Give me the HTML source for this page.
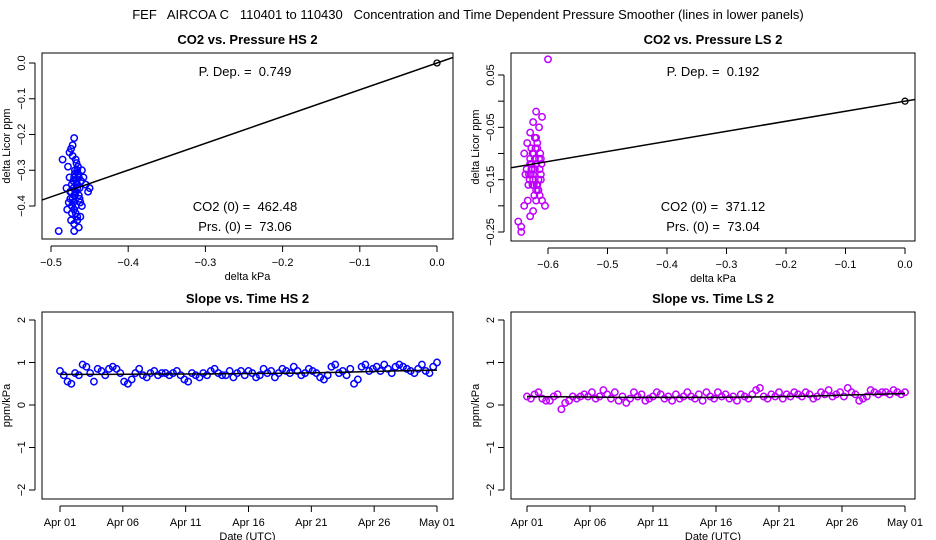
<!DOCTYPE html>
<html><head><meta charset="utf-8">
<style>
body{margin:0;background:#fff;}
svg{display:block;font-family:"Liberation Sans",sans-serif;}
text{white-space:pre;}
</style></head>
<body>
<svg id="c" width="936" height="540" viewBox="0 0 936 540">
<text x="468" y="19" text-anchor="middle" font-size="13" xml:space="preserve">FEF   AIRCOA C   110401 to 110430   Concentration and Time Dependent Pressure Smoother (lines in lower panels)</text>
</svg>
<script>
// ---- data ----
const hsPrsX=[-0.49,-0.485,-0.48,-0.478,-0.476,-0.475,-0.474,-0.473,-0.472,-0.471,-0.47,-0.47,-0.469,-0.468,-0.468,-0.467,-0.466,-0.466,-0.465,-0.464,-0.463,-0.462,-0.461,-0.46,-0.458,-0.455,-0.452,-0.45,-0.479,-0.477,-0.474,-0.472,-0.47,-0.468,-0.466,-0.464,-0.462,-0.47,-0.473,-0.469,-0.467,-0.471,-0.475,-0.465,-0.463,-0.46,-0.476,-0.472,-0.468,-0.466,-0.47,-0.474,-0.469,-0.467,-0.464,-0.471,-0.473,-0.468,-0.466,-0.47];
const hsPrsY=[-0.47,-0.27,-0.35,-0.29,-0.32,-0.38,-0.24,-0.42,-0.26,-0.33,-0.21,-0.45,-0.3,-0.36,-0.4,-0.28,-0.34,-0.43,-0.31,-0.37,-0.35,-0.39,-0.33,-0.3,-0.32,-0.34,-0.36,-0.35,-0.41,-0.39,-0.44,-0.38,-0.37,-0.36,-0.35,-0.46,-0.43,-0.32,-0.34,-0.31,-0.33,-0.35,-0.36,-0.29,-0.38,-0.4,-0.25,-0.23,-0.27,-0.3,-0.41,-0.36,-0.37,-0.34,-0.32,-0.39,-0.4,-0.42,-0.44,-0.47];
const lsPrsX=[-0.6,-0.62,-0.625,-0.615,-0.63,-0.62,-0.61,-0.64,-0.635,-0.618,-0.612,-0.628,-0.622,-0.632,-0.616,-0.626,-0.62,-0.614,-0.61,-0.624,-0.63,-0.638,-0.618,-0.622,-0.628,-0.612,-0.616,-0.62,-0.625,-0.633,-0.64,-0.645,-0.63,-0.625,-0.62,-0.605,-0.65,-0.645,-0.628,-0.618,-0.622,-0.626,-0.614,-0.612,-0.62,-0.63,-0.625,-0.619,-0.623,-0.617,-0.627,-0.621,-0.615,-0.629,-0.631,-0.611,-0.613,-0.624,-0.634,-0.636];
const lsPrsY=[0.08,-0.02,-0.04,-0.05,-0.06,-0.07,-0.03,-0.1,-0.08,-0.09,-0.11,-0.12,-0.13,-0.14,-0.15,-0.16,-0.17,-0.18,-0.19,-0.1,-0.12,-0.14,-0.16,-0.11,-0.13,-0.15,-0.17,-0.12,-0.14,-0.16,-0.2,-0.24,-0.22,-0.21,-0.19,-0.2,-0.23,-0.25,-0.09,-0.08,-0.07,-0.1,-0.13,-0.14,-0.12,-0.11,-0.15,-0.16,-0.18,-0.17,-0.13,-0.09,-0.11,-0.14,-0.15,-0.12,-0.1,-0.16,-0.19,-0.13];
const hsSlope=0.749, lsSlope=0.192;
const hsSlopeT=[0.8,0.7,0.55,0.5,0.75,0.7,0.95,0.9,0.75,0.55,0.85,0.8,0.7,0.85,0.9,0.85,0.75,0.55,0.5,0.6,0.75,0.85,0.7,0.65,0.75,0.8,0.7,0.75,0.75,0.7,0.75,0.8,0.7,0.6,0.55,0.75,0.7,0.65,0.75,0.7,0.8,0.85,0.75,0.7,0.7,0.8,0.65,0.75,0.8,0.7,0.8,0.75,0.65,0.7,0.85,0.75,0.8,0.65,0.75,0.85,0.8,0.75,0.9,0.8,0.7,0.75,0.85,0.8,0.75,0.65,0.6,0.7,0.9,0.95,0.75,0.8,0.7,0.85,0.5,0.6,0.9,0.95,0.8,0.85,0.9,0.8,0.95,0.85,0.75,0.9,0.95,0.9,0.85,0.8,0.75,0.85,0.95,0.8,0.75,0.9,1.0];
const hsFitT=[0.72,0.72,0.73,0.73,0.74,0.75,0.77,0.8,0.82];
const lsSlopeT=[0.2,0.15,0.25,0.3,0.15,0.1,0.1,0.2,0.25,-0.1,0.05,0.1,0.2,0.15,0.2,0.25,0.2,0.3,0.15,0.2,0.35,0.25,0.15,0.3,0.1,0.2,0.05,0.15,0.3,0.2,0.25,0.1,0.15,0.2,0.3,0.25,0.15,0.2,0.1,0.25,0.15,0.2,0.3,0.2,0.15,0.25,0.1,0.3,0.2,0.15,0.3,0.2,0.25,0.15,0.2,0.1,0.25,0.2,0.15,0.25,0.35,0.4,0.2,0.15,0.25,0.2,0.3,0.15,0.25,0.2,0.3,0.25,0.2,0.3,0.25,0.15,0.2,0.3,0.25,0.35,0.2,0.25,0.3,0.2,0.4,0.3,0.25,0.1,0.15,0.2,0.35,0.3,0.25,0.3,0.3,0.25,0.35,0.3,0.25,0.3];
const lsFitT=[0.2,0.19,0.18,0.18,0.18,0.19,0.21,0.24,0.27];
const dateTicks=["Apr 01","Apr 06","Apr 11","Apr 16","Apr 21","Apr 26","May 01"];
const dateTickDays=[0,5,10,15,20,25,30];
const hsXTicks=[-0.5,-0.4,-0.3,-0.2,-0.1,0.0];
const hsYTicks=[0.0,-0.1,-0.2,-0.3,-0.4];
const lsXTicks=[-0.6,-0.5,-0.4,-0.3,-0.2,-0.1,0.0];
const lsYTicks=[0.05,0.0,-0.05,-0.1,-0.15,-0.2,-0.25];
const lsYLabels=["0.05","","−0.05","","−0.15","","−0.25"];
const slopeYTicks=[2,1,0,-1,-2];

const svg=document.getElementById('c');
const NS='http://www.w3.org/2000/svg';
function mk(t,a,p){const e=document.createElementNS(NS,t);for(const k in a)e.setAttribute(k,a[k]);(p||svg).appendChild(e);return e;}
function lin(d0,d1,r0,r1){return v=>r0+(v-d0)*(r1-r0)/(d1-d0);}
function fmt(v,d){let s=v.toFixed(d);if(s.startsWith('-0')&&+s===0)s=s.slice(1);return s.replace('-','−');}

function panel(o){
  const g=mk('g',{});
  
  
  const b=o.box;
  const r=mk('rect',{x:b[0],y:b[1],width:b[2]-b[0],height:b[3]-b[1],fill:'none',stroke:'#000','stroke-width':1},g);
  
  const t=mk('text',{x:(b[0]+b[2])/2,y:b[1]-9,'text-anchor':'middle','font-size':13,'font-weight':'bold'},g);t.textContent=o.title;
  
  const xa=mk('g',{},g);
  mk('line',{x1:o.sx(o.xt[0]),x2:o.sx(o.xt[o.xt.length-1]),y1:b[3]+7,y2:b[3]+7,stroke:'#000'},xa);
  o.xt.forEach((v,i)=>{const x=o.sx(v);mk('line',{x1:x,x2:x,y1:b[3]+7,y2:b[3]+13,stroke:'#000'},xa);
    const tx=mk('text',{x:x,y:b[3]+27,'text-anchor':'middle','font-size':11},xa);tx.textContent=o.xl?o.xl[i]:fmt(v,1);
    });
  const ya=mk('g',{},g);
  const yx=b[0]-7;
  mk('line',{x1:yx,x2:yx,y1:o.sy(o.yt[0]),y2:o.sy(o.yt[o.yt.length-1]),stroke:'#000'},ya);
  o.yt.forEach((v,i)=>{const y=o.sy(v);mk('line',{x1:yx-6,x2:yx,y1:y,y2:y,stroke:'#000'},ya);
    const s=o.yl?o.yl[i]:(o.yd===0?fmt(v,0):fmt(v,o.yd));
    if(!s)return;
    const tx=mk('text',{x:yx-10,y:y,'text-anchor':'middle','font-size':11,transform:`rotate(-90 ${yx-10} ${y})`},ya);tx.textContent=s;
    });
  const xt=mk('text',{x:(b[0]+b[2])/2,y:b[3]+41,'text-anchor':'middle','font-size':11},g);xt.textContent=o.xtitle;
  
  const yc=(b[1]+b[3])/2, ytx=b[0]-32;
  const yt=mk('text',{x:ytx,y:yc,'text-anchor':'middle','font-size':11,transform:`rotate(-90 ${ytx} ${yc})`},g);yt.textContent=o.ytitle;
  
  const cp='cp'+o.name;const d=mk('clipPath',{id:cp},g);mk('rect',{x:b[0],y:b[1],width:b[2]-b[0],height:b[3]-b[1]},d);
  const pg=mk('g',{'clip-path':`url(#${cp})`},g);
  return pg;
}
function pts(pg,xs,ys,sx,sy,col){
  xs.forEach((xv,i)=>{const c=mk('circle',{cx:sx(xv),cy:sy(ys[i]),r:3.2,fill:'none',stroke:col,'stroke-width':1.5},pg);
    });
}
function label(pg,x,y,s){const t=mk('text',{x:x,y:y,'text-anchor':'middle','font-size':13},pg);t.textContent=s;
  }

// Panel 1
{const sx=lin(-0.5,0,51,437),sy=lin(0,-0.4,63,206);
 const pg=panel({name:'pressure-hs',box:[42,53,453,239],title:'CO2 vs. Pressure HS 2',sx,sy,xt:hsXTicks,yt:hsYTicks,yd:1,xtitle:'delta kPa',ytitle:'delta Licor ppm'});
 pts(pg,hsPrsX,hsPrsY,sx,sy,'#0000ff');
 const l=mk('line',{x1:sx(-0.6),y1:sy(-0.6*hsSlope),x2:sx(0.1),y2:sy(0.1*hsSlope),stroke:'#000','stroke-width':1.5},pg);
 
 mk('circle',{cx:sx(0),cy:sy(0),r:3,fill:'none',stroke:'#000','stroke-width':1.3},pg);
 label(pg,245,76,'P. Dep. =  '+hsSlope.toFixed(3));label(pg,245,211,'CO2 (0) =  462.48');label(pg,245,231,'Prs. (0) =  73.06');}
// Panel 2
{const sx=lin(-0.6,0,548,905),sy=lin(0.05,-0.25,75,232);
 const pg=panel({name:'pressure-ls',box:[511,53,915,241],title:'CO2 vs. Pressure LS 2',sx,sy,xt:lsXTicks,yt:lsYTicks,yl:lsYLabels,yd:2,xtitle:'delta kPa',ytitle:'delta Licor ppm'});
 pts(pg,lsPrsX,lsPrsY,sx,sy,'#c000ff');
 const l=mk('line',{x1:sx(-0.7),y1:sy(-0.7*lsSlope),x2:sx(0.1),y2:sy(0.1*lsSlope),stroke:'#000','stroke-width':1.5},pg);
 
 mk('circle',{cx:sx(0),cy:sy(0),r:3,fill:'none',stroke:'#000','stroke-width':1.3},pg);
 label(pg,713,76,'P. Dep. =  '+lsSlope.toFixed(3));label(pg,713,211,'CO2 (0) =  371.12');label(pg,713,231,'Prs. (0) =  73.04');}
// Panels 3,4
function slopePanel(name,title,x0,x1,box,vals,fit,col){
  const sx=lin(0,30,x0,x1),sy=lin(2,-2,320,490);
  const pg=panel({name,box,title,sx,sy,xt:dateTickDays,xl:dateTicks,yt:slopeYTicks,yd:0,xtitle:'Date (UTC)',ytitle:'ppm/kPa'});
  const ts=vals.map((v,i)=>i*30/(vals.length-1));
  pts(pg,ts,vals,sx,sy,col);
  const ft=fit.map((v,i)=>i*30/(fit.length-1));
  const p=mk('polyline',{points:ft.map((t,i)=>sx(t)+','+sy(fit[i])).join(' '),fill:'none',stroke:'#000','stroke-width':1.5},pg);
  
}
slopePanel('slope-hs','Slope vs. Time HS 2',60,437,[42,312,453,499],hsSlopeT,hsFitT,'#0000ff');
slopePanel('slope-ls','Slope vs. Time LS 2',527,905,[511,312,915,499],lsSlopeT,lsFitT,'#c000ff');
</script>
</body></html>
